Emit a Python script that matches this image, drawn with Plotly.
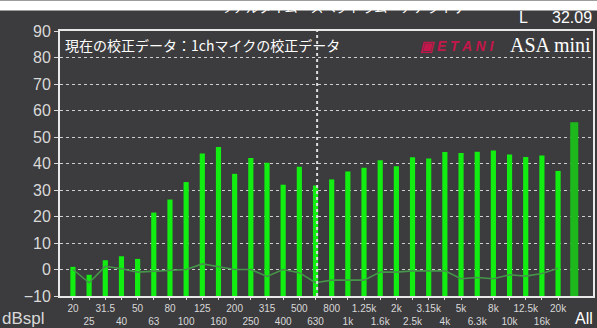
import plotly.graph_objects as go

bands = ["20", "25", "31.5", "40", "50", "63", "80", "100", "125", "160", "200", "250",
         "315", "400", "500", "630", "800", "1k", "1.25k", "1.6k", "2k", "2.5k", "3.15k",
         "4k", "5k", "6.3k", "8k", "10k", "12.5k", "16k", "20k"]
levels = [1, -2, 3.5, 5, 4, 21.5, 26.4, 33, 43.8, 46.2, 36.1, 42.1, 40.3, 32, 38.8,
          31.7, 34, 37, 38.4, 41.2, 39, 42.4, 41.9, 44.3, 44, 44.4, 44.9, 43.4, 42.5, 43, 37.2]
all_level = 55.6
calib = [0, -5, 1.2, 0.3, -1, -0.6, -0.3, 0, 2.1, 1, 0, 0, -2.6, 0, -1.2, -5, -4, -4, -4,
         -1, -1, -0.5, -0.5, -0.5, -3.5, -3, -3.5, -2, -2.5, -1.5, 0.5]
y_ticks = [-10, 0, 10, 20, 30, 40, 50, 60, 70, 80, 90]
floor = -10
marker_band = 15.1
level_L = "32.09"

BG = "#3c3b3d"
GREEN = "#12ee12"
LIGHT = "#d9d9d9"
FONT = "Liberation Sans, Arial, sans-serif"

W, H, L, R, T, B = 597, 328, 60, 4, 31, 32
PW, PH = W - L - R, H - T - B


def px(x):
    return (x - L) / PW


def py(y):
    return (H - B - y) / PH


idx = list(range(len(bands)))
fig = go.Figure()
fig.add_trace(go.Bar(x=idx, y=[v - floor for v in levels], base=floor,
                     marker=dict(color=GREEN, line=dict(width=0)), width=0.32,
                     hoverinfo="skip"))
fig.add_trace(go.Bar(x=[len(bands)], y=[all_level - floor], base=floor,
                     marker=dict(color="#1cb81c", line=dict(width=0)), width=0.5,
                     hoverinfo="skip"))
fig.add_trace(go.Scatter(x=idx, y=calib, mode="lines",
                         line=dict(color="#45964a", width=1.6), hoverinfo="skip"))

ticktext = [b if i % 2 == 0 else "<br>" + b for i, b in enumerate(bands)]

fig.update_layout(
    width=W, height=H,
    margin=dict(l=L, r=R, t=T, b=B),
    paper_bgcolor=BG, plot_bgcolor=BG,
    showlegend=False, barmode="overlay",
    font=dict(family=FONT, color=LIGHT),
    xaxis=dict(range=[-0.8, 32.16], tickmode="array", tickvals=idx, ticktext=ticktext,
               tickangle=0, tickfont=dict(size=10, color=LIGHT), ticks="outside",
               ticklen=2, tickcolor=LIGHT, automargin=False,
               showgrid=False, zeroline=False,
               showline=True, linecolor="#e8e8e8", linewidth=2, mirror=True),
    yaxis=dict(range=[-10, 90], tickmode="array", tickvals=y_ticks, automargin=False,
               tickfont=dict(size=16, color=LIGHT), ticks="outside", ticklen=4,
               tickcolor=LIGHT, showgrid=True, gridcolor="#cfcfcf", griddash="dot",
               gridwidth=1.3, zeroline=False,
               showline=True, linecolor="#e8e8e8", linewidth=2, mirror=True),
    shapes=[
        dict(type="line", xref="x", yref="y", x0=marker_band, x1=marker_band, y0=-10, y1=90,
             line=dict(color="#dddddd", width=2, dash="dot"), layer="above"),
    ],
    annotations=[
        dict(text=" ", xref="paper", yref="paper", x=px(-2), y=py(0),
             xanchor="left", yanchor="top", width=601, height=9, borderpad=0,
             bgcolor="white", showarrow=False, font=dict(size=6)),
        dict(text="リアルタイム・スペクトラム・アナライザー", xref="paper", yref="paper",
             x=px(349), y=py(6), xanchor="center", yanchor="middle",
             showarrow=False, font=dict(size=13, color="white", family="Noto Sans CJK JP")),
        dict(text="L", xref="paper", yref="paper", x=px(523), y=py(17),
             xanchor="center", yanchor="middle", showarrow=False,
             font=dict(size=16, color="white")),
        dict(text=level_L, xref="paper", yref="paper", x=px(594),
             y=py(17), xanchor="right", yanchor="middle", showarrow=False,
             font=dict(size=16, color="white")),
        dict(text="現在の校正データ：1chマイクの校正データ", xref="paper", yref="paper",
             x=px(63), y=py(45), xanchor="left", yanchor="middle",
             showarrow=False, font=dict(size=14, color="white", family="Noto Sans CJK JP")),
        dict(text="<b><i>▣ E T A N I</i></b>", xref="paper", yref="paper",
             x=px(457), y=py(46), xanchor="center", yanchor="middle",
             showarrow=False, font=dict(size=14, color="#c3164b")),
        dict(text="ASA mini", xref="paper", yref="paper", x=px(593),
             y=py(45), xanchor="right", yanchor="middle", showarrow=False,
             font=dict(size=20, color="white",
                       family="Liberation Serif, Times New Roman, serif")),
        dict(text="dBspl", xref="paper", yref="paper", x=px(0), y=py(318),
             xanchor="left", yanchor="middle", showarrow=False,
             font=dict(size=17, color=LIGHT)),
        dict(text="All", xref="paper", yref="paper", x=px(584),
             y=py(318), xanchor="center", yanchor="middle", showarrow=False,
             font=dict(size=16, color="white")),
    ],
)

fig.write_html("out.html")
